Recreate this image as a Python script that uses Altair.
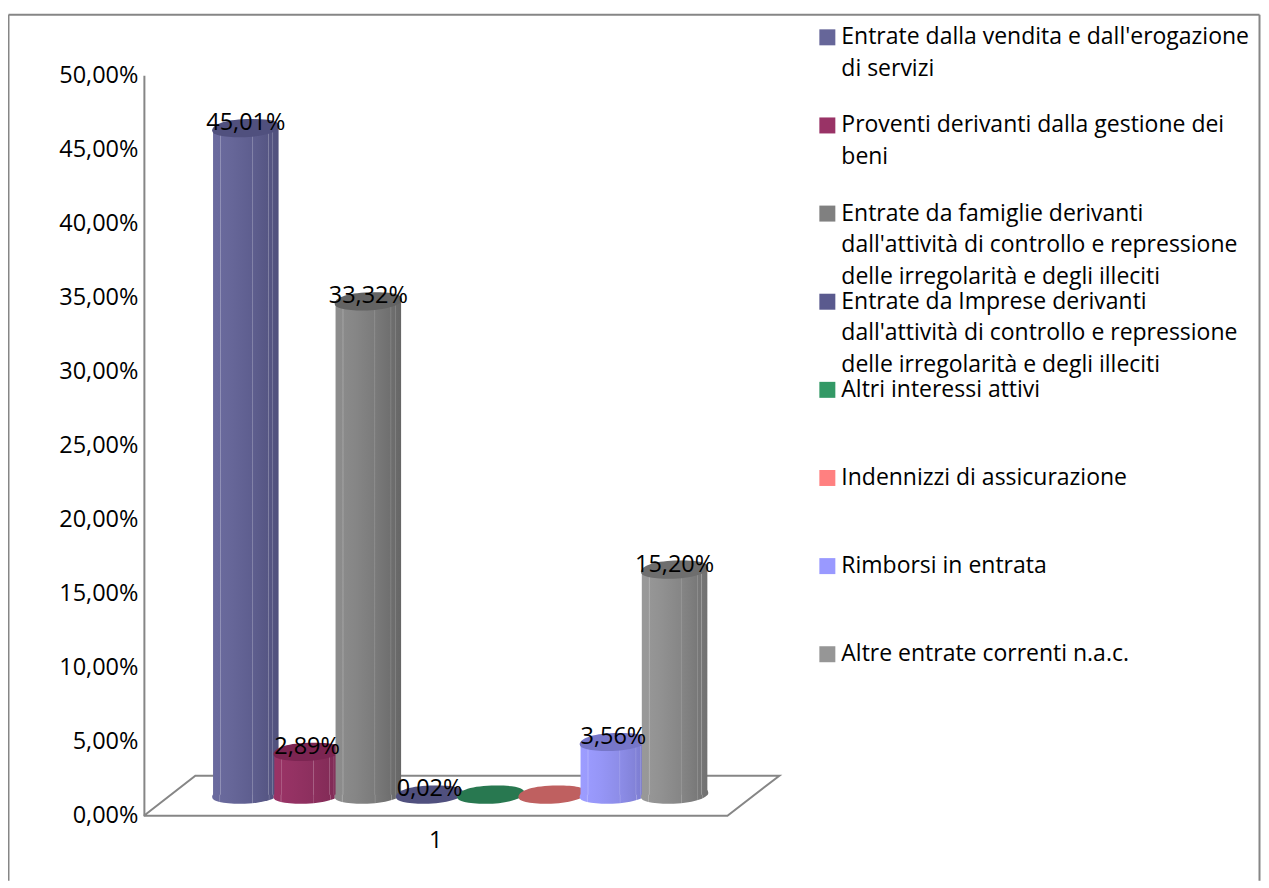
import altair as alt
import pandas as pd

CATEGORIES = ["Entrate dalla vendita e dall'erogazione di servizi",
              "Proventi derivanti dalla gestione dei beni",
              "Entrate da famiglie derivanti dall'attività di controllo e repressione delle irregolarità e degli illeciti",
              "Entrate da Imprese derivanti dall'attività di controllo e repressione delle irregolarità e degli illeciti",
              "Altri interessi attivi",
              "Indennizzi di assicurazione",
              "Rimborsi in entrata",
              "Altre entrate correnti n.a.c."]
VALUES = [45.01, 2.89, 33.32, 0.02, 0.0, 0.0, 3.56, 15.20]
DATA_LABELS = ["45,01%", "2,89%", "33,32%", "0,02%", "", "", "3,56%", "15,20%"]
POSITIONS = [1, 2, 3, 4, 5, 6, 7, 8]
LEGEND_LINES = [["Entrate dalla vendita e dall'erogazione", "di servizi"],
                ["Proventi derivanti dalla gestione dei", "beni"],
                ["Entrate da famiglie derivanti", "dall'attività di controllo e repressione", "delle irregolarità e degli illeciti"],
                ["Entrate da Imprese derivanti", "dall'attività di controllo e repressione", "delle irregolarità e degli illeciti"],
                ["Altri interessi attivi"],
                ["Indennizzi di assicurazione"],
                ["Rimborsi in entrata"],
                ["Altre entrate correnti n.a.c."]]
SWATCH = ["#666699", "#993366", "#808080", "#5a5a8e", "#339966", "#ff8080", "#9999ff", "#969696"]
LEFT_SHADE = ["#6a6a9e", "#993366", "#8c8c8c", "#5a5a8e", "#339966", "#ff8080", "#9c9cff", "#989898"]
RIGHT_SHADE = ["#50507c", "#7d2a54", "#666666", "#4a4a78", "#287850", "#bf6060", "#7a7acc", "#707070"]
TOP_SHADE = ["#50507e", "#7c2552", "#636363", "#50507e", "#287850", "#bf6060", "#7676c8", "#6e6e6e"]
Y_TICKS = [0, 5, 10, 15, 20, 25, 30, 35, 40, 45, 50]
CATEGORY_TICK = "1"
FLOOR_X = [-0.664, 0.176, 9.711, 8.863, -0.664]
FLOOR_Y = [0, 2.70, 2.70, 0, 0]

BASE = 1.417        # the cylinders stand on the floor, behind the front edge
HALF = 0.535
GREY = "#868686"
FONT = "Open Sans"
ELLIPSE = ("M-1,0.07 C-1,-0.12 -0.55,-0.27 0.15,-0.27 C0.7,-0.27 1,-0.22 1,-0.05 "
           "C1,0.1 0.5,0.27 -0.15,0.27 C-0.7,0.27 -1,0.2 -1,0.07 Z")
ELL_SIZE = 4550

X_S = alt.Scale(domain=[-0.664, 9.711], nice=False, zero=False)
Y_S = alt.Scale(domain=[0, 50], nice=False)
Y_A = alt.Axis(values=Y_TICKS, ticks=False, grid=False, domainColor=GREY, domainWidth=2, title=None,
               labelFont=FONT, labelFontSize=23.5, labelColor="#000000", labelPadding=6,
               labelExpr="replace(format(datum.value,'.2f'),'.',',')+'%'")


def mix(a, b, t):
    ca = [int(a[i:i + 2], 16) for i in (1, 3, 5)]
    cb = [int(b[i:i + 2], 16) for i in (1, 3, 5)]
    return "#%02x%02x%02x" % tuple(round(x + (y - x) * t) for x, y in zip(ca, cb))


def body_gradient(left, right):
    stops = []
    for off in [0, .03, .05, .10, .115, .125, .3, .59, .60, .61, .75, .835, .845, .855, .90, .91, .92, 1]:
        c = mix(left, right, off ** 1.5)
        if off in (.04, .115, .60, .845, .91):
            c = mix(c, "#ffffff", .28)
        stops.append(alt.GradientStop(offset=off, color=c))
    return alt.Gradient(gradient="linear", x1=0, x2=1, y1=0, y2=0, stops=stops)


df = pd.DataFrame({"pos": POSITIONS, "value": VALUES, "label": DATA_LABELS, "category": CATEGORIES})
df["base"] = BASE
df["top"] = df["value"] + BASE
df["left"] = df["pos"] - HALF
df["right"] = df["pos"] + HALF

layers = []

# outer frame
for kw in [dict(x=alt.value(-135.5), x2=alt.value(1116.5), y=alt.value(-60.5)),
           dict(x=alt.value(-135.5), y=alt.value(-60.5), y2=alt.value(806)),
           dict(x=alt.value(1116.5), y=alt.value(-60.5), y2=alt.value(806))]:
    layers.append(alt.Chart(pd.DataFrame({"k": [0]})).mark_rule(color=GREY, strokeWidth=2).encode(**kw))

# floor and value axis
floor = pd.DataFrame({"x": FLOOR_X, "y": FLOOR_Y, "o": range(len(FLOOR_X))})
layers.append(alt.Chart(floor).mark_line(color=GREY, strokeWidth=2).encode(
    x=alt.X("x:Q", scale=X_S, axis=None),
    y=alt.Y("y:Q", scale=Y_S, axis=Y_A),
    order="o:Q"))

# cylinders
for i in range(len(VALUES)):
    d = df.iloc[[i]]
    grad = body_gradient(LEFT_SHADE[i], RIGHT_SHADE[i])
    flat = VALUES[i] < 0.5
    layers.append(alt.Chart(d).mark_point(shape=ELLIPSE, size=ELL_SIZE, filled=True, opacity=1, strokeWidth=0,
                                          color=TOP_SHADE[i] if flat else grad).encode(
        x=alt.X("pos:Q", scale=X_S, axis=None), y=alt.Y("base:Q", scale=Y_S, axis=Y_A)))
    if not flat:
        layers.append(alt.Chart(d).mark_rect(color=grad).encode(
            x=alt.X("left:Q", scale=X_S, axis=None), x2="right:Q",
            y=alt.Y("top:Q", scale=Y_S, axis=Y_A), y2="base:Q"))
        layers.append(alt.Chart(d).mark_point(shape=ELLIPSE, size=ELL_SIZE, filled=True, opacity=1, strokeWidth=0,
                                              color=TOP_SHADE[i]).encode(
            x=alt.X("pos:Q", scale=X_S, axis=None), y=alt.Y("top:Q", scale=Y_S, axis=Y_A)))

# data labels
layers.append(alt.Chart(df[df["label"] != ""]).mark_text(
    font=FONT, fontSize=23.5, color="#000000", baseline="middle", dy=-5).encode(
    x=alt.X("pos:Q", scale=X_S, axis=None), y=alt.Y("top:Q", scale=Y_S, axis=Y_A), text="label:N"))

# category tick label
layers.append(alt.Chart(pd.DataFrame({"t": [CATEGORY_TICK], "x": [(FLOOR_X[0] + FLOOR_X[3]) / 2]})).mark_text(
    font=FONT, fontSize=23.5, color="#000000", baseline="middle").encode(
    x=alt.X("x:Q", scale=X_S, axis=None), y=alt.value(766), text="t:N"))

# legend
for i, lines in enumerate(LEGEND_LINES):
    y0 = 37 - 75 + 88.2 * i
    layers.append(alt.Chart(pd.DataFrame({"k": [CATEGORIES[i]]})).mark_square(
        size=256, color=SWATCH[i], opacity=1, strokeWidth=0).encode(x=alt.value(684), y=alt.value(y0)))
    for k, line in enumerate(lines):
        layers.append(alt.Chart(pd.DataFrame({"t": [line]})).mark_text(
            font=FONT, fontSize=23, color="#000000", align="left", baseline="middle").encode(
            x=alt.value(698), y=alt.value(y0 + 31.5 * k), text="t:N"))

chart = alt.layer(*layers).properties(
    width=636, height=741,
    padding={"left": -1, "top": 5, "right": 0, "bottom": 0},
    background="white",
).configure_view(stroke=None)

chart.save("out.html", embed_options={"renderer": "svg", "actions": False})
